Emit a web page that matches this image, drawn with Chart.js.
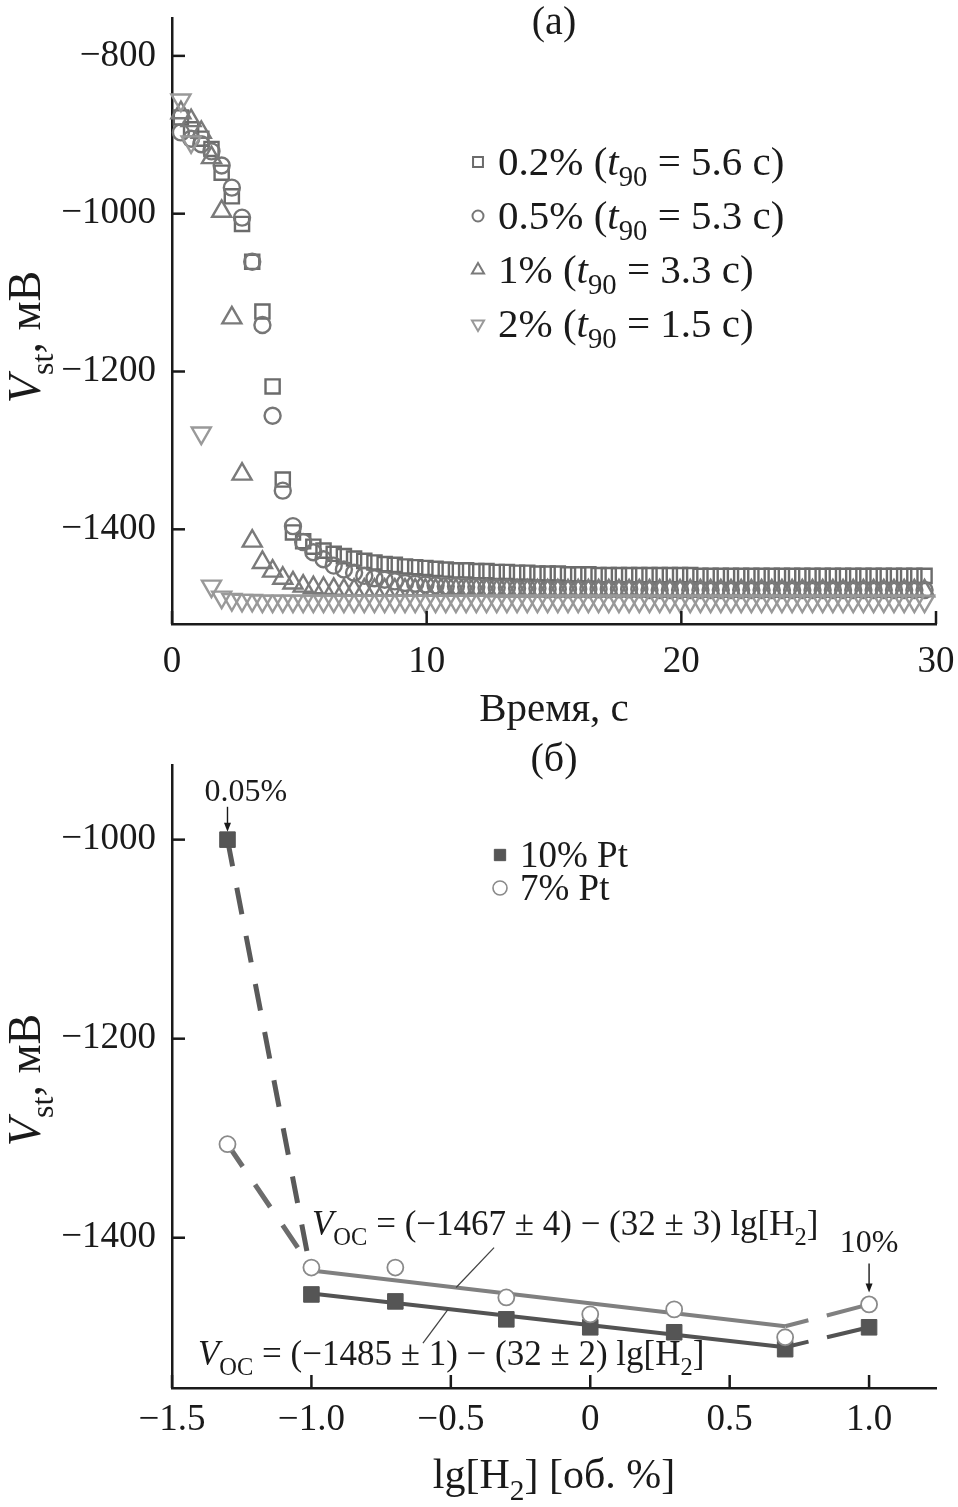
<!DOCTYPE html>
<html>
<head>
<meta charset="utf-8">
<script src="https://cdn.jsdelivr.net/npm/chart.js@4.4.1/dist/chart.umd.min.js"></script>
<style>
html,body{margin:0;padding:0;background:#fff;}
#wrap{position:relative;width:958px;height:1507px;overflow:hidden;}
#c1{position:absolute;left:0;top:0;}
#c2{position:absolute;left:0;top:740px;}
</style>
</head>
<body>
<div id="wrap">
<canvas id="c1" width="958" height="740"></canvas>
<canvas id="c2" width="958" height="767"></canvas>
</div>
<script>
// ================= DATA =================
// (a) transient response, time in s, potential in mV
const times = [
  0.35,0.75,1.15,1.55,1.95,2.35,2.75,3.15,3.55,3.95,
  4.35,4.75,5.15,5.55,5.95,6.35,6.75,7.15,7.55,7.95,
  8.35,8.75,9.15,9.55,9.95,10.35,10.75,11.15,11.55,11.95,
  12.35,12.75,13.15,13.55,13.95,14.35,14.75,15.15,15.55,15.95,
  16.35,16.75,17.15,17.55,17.95,18.35,18.75,19.15,19.55,19.95,
  20.35,20.75,21.15,21.55,21.95,22.35,22.75,23.15,23.55,23.95,
  24.35,24.75,25.15,25.55,25.95,26.35,26.75,27.15,27.55,27.95,
  28.35,28.75,29.15,29.55
];
const v02 = [
  -878,-893,-905,-918,-948,-978,-1013,-1061,-1124,-1219,
  -1337,-1404,-1415,-1422,-1427,-1431,-1434,-1437,-1440,-1442,
  -1444,-1445,-1447,-1448,-1449,-1450,-1451,-1452,-1452,-1453,
  -1453,-1454,-1454,-1455,-1455,-1456,-1456,-1456,-1457,-1457,
  -1457,-1458,-1458,-1458,-1458,-1458,-1458,-1458,-1458,-1458,
  -1458,-1459,-1459,-1459,-1459,-1459,-1459,-1459,-1459,-1459,
  -1459,-1459,-1459,-1459,-1459,-1459,-1459,-1459,-1459,-1459,
  -1459,-1459,-1459,-1459
];
const v05 = [
  -897,-905,-912,-921,-939,-967,-1005,-1061,-1141,-1256,
  -1351,-1396,-1416,-1429,-1438,-1446,-1451,-1455,-1459,-1462,
  -1464,-1466,-1468,-1469,-1470,-1471,-1472,-1472,-1473,-1473,
  -1474,-1474,-1474,-1475,-1475,-1475,-1476,-1476,-1476,-1476,
  -1476,-1476,-1476,-1476,-1476,-1476,-1477,-1477,-1477,-1477,
  -1477,-1477,-1477,-1477,-1477,-1477,-1477,-1477,-1477,-1477,
  -1477,-1477,-1477,-1477,-1477,-1477,-1477,-1477,-1477,-1477,
  -1477,-1477,-1477,-1477
];
const v1 = [
  -872,-882,-897,-929,-997,-1132,-1330,-1415,-1442,-1453,
  -1462,-1468,-1472,-1474,-1475,-1476,-1477,-1477,-1477,-1477,
  -1477,-1477,-1477,-1477,-1477,-1477,-1477,-1477,-1477,-1477,
  -1477,-1478,-1478,-1478,-1478,-1478,-1478,-1478,-1478,-1478,
  -1478,-1478,-1478,-1478,-1478,-1478,-1478,-1478,-1478,-1478,
  -1478,-1478,-1478,-1478,-1478,-1478,-1478,-1478,-1478,-1478,
  -1478,-1478,-1478,-1478,-1478,-1478,-1478,-1478,-1478,-1478,
  -1478,-1478,-1478,-1478
];
const v2 = [
  -856,-909,-1278,-1472,-1486,-1489,-1490,-1490,-1491,-1491,
  -1491,-1491,-1491,-1491,-1491,-1491,-1491,-1491,-1491,-1491,
  -1491,-1491,-1491,-1491,-1491,-1491,-1491,-1491,-1491,-1491,
  -1491,-1491,-1491,-1491,-1491,-1491,-1491,-1491,-1491,-1491,
  -1491,-1491,-1491,-1491,-1491,-1491,-1491,-1491,-1491,-1491,
  -1491,-1491,-1491,-1491,-1491,-1491,-1491,-1491,-1491,-1491,
  -1491,-1491,-1491,-1491,-1491,-1491,-1491,-1491,-1491,-1491,
  -1491,-1491,-1491,-1491
];
const concLabels = ['0.2%', '0.5%', '1%', '2%'];
const t90Labels = ['5.6', '5.3', '3.3', '1.5'];
const topXTicks = [0, 10, 20, 30];
const topYTicks = [-800, -1000, -1200, -1400];

// (б) steady-state potential vs lg[H2]
const lgH2 = [-1.301, -1.0, -0.699, -0.301, 0, 0.301, 0.699, 1.0];
const pt10 = [-1000, -1457, -1464, -1482, -1490, -1495, -1512, -1490];
const pt7  = [-1306, -1430, -1430, -1460, -1477, -1472, -1500, -1467];
const fitX   = [-1.0, 0.699];
const fit7   = [-1433, -1489];
const fit10  = [-1456, -1510];
const dashLeftX  = [-1.301, -1.0];
const dashLeft10 = [-1000, -1437];
const dashLeft7  = [-1306, -1430];
const dashRightX  = [0.699, 1.0];
const dashRight7  = [-1489, -1467];
const dashRight10 = [-1510, -1490];
const botXTicks = [-1.5, -1.0, -0.5, 0, 0.5, 1.0];
const botXLabels = ['\u22121.5', '\u22121.0', '\u22120.5', '0', '0.5', '1.0'];
const botYTicks = [-1000, -1200, -1400];
const botLegend = ['10% Pt', '7% Pt'];

// ================= HELPERS =================
const SERIF = '"Liberation Serif", "Times New Roman", serif';
const INK = '#1a1a1a';
Chart.defaults.font.family = SERIF;
Chart.defaults.color = INK;

function fmtNum(v) { return v < 0 ? '\u2212' + Math.abs(v) : String(v); }
function segFont(s, size) {
  const sz = s.sub ? size * 0.7 : size;
  return (s.it ? 'italic ' : '') + sz.toFixed(1) + 'px ' + SERIF;
}
function richWidth(ctx, segs, size) {
  let w = 0;
  segs.forEach(s => { ctx.font = segFont(s, size); w += ctx.measureText(s.t).width; });
  return w;
}
function drawRich(ctx, segs, x, y, size, align) {
  const w = richWidth(ctx, segs, size);
  let cx = align === 'center' ? x - w / 2 : (align === 'right' ? x - w : x);
  ctx.textAlign = 'left';
  ctx.textBaseline = 'alphabetic';
  segs.forEach(s => {
    ctx.font = segFont(s, size);
    ctx.fillText(s.t, cx, y + (s.sub ? size * 0.28 : 0));
    cx += ctx.measureText(s.t).width;
  });
}
function arrowDown(ctx, x, y1, y2) {
  ctx.beginPath(); ctx.moveTo(x, y1); ctx.lineTo(x, y2 - 7); ctx.stroke();
  ctx.beginPath(); ctx.moveTo(x, y2); ctx.lineTo(x - 3.5, y2 - 9); ctx.lineTo(x + 3.5, y2 - 9); ctx.closePath(); ctx.fill();
}

const inwardTicks = {
  id: 'inwardTicks',
  afterDraw(chart) {
    const { ctx, chartArea: ca, scales: { x, y } } = chart;
    ctx.save();
    ctx.strokeStyle = INK; ctx.lineWidth = 2.5;
    x.ticks.forEach(t => {
      const px = x.getPixelForValue(t.value);
      ctx.beginPath(); ctx.moveTo(px, ca.bottom); ctx.lineTo(px, ca.bottom - 13); ctx.stroke();
    });
    y.ticks.forEach(t => {
      const py = y.getPixelForValue(t.value);
      ctx.beginPath(); ctx.moveTo(ca.left, py); ctx.lineTo(ca.left + 13, py); ctx.stroke();
    });
    ctx.restore();
  }
};

function axisCommon(extra) {
  return Object.assign({
    type: 'linear',
    grid: { display: true, drawOnChartArea: false, drawTicks: false },
    border: { display: true, color: INK, width: 2.5 },
  }, extra);
}

// ================= CHART (а) =================
const topStyles = [
  { pointStyle: 'rect', radius: 10, color: '#6b6b6b', rot: 0 },
  { pointStyle: 'circle', radius: 8, color: '#767676', rot: 0 },
  { pointStyle: 'triangle', radius: 11, color: '#7a7a7a', rot: 0 },
  { pointStyle: 'triangle', radius: 11, color: '#999999', rot: 180 },
];
const topSeries = [v02, v05, v1, v2];

const topDeco = {
  id: 'topDeco',
  afterDraw(chart) {
    const { ctx, chartArea: ca } = chart;
    const cx = (ca.left + ca.right) / 2;
    ctx.save();
    ctx.fillStyle = INK;
    drawRich(ctx, [{ t: '(а)' }], cx, 34, 40, 'center');
    drawRich(ctx, [{ t: 'Время, с' }], cx, 721, 41, 'center');
    ctx.save();
    ctx.translate(40, 337); ctx.rotate(-Math.PI / 2);
    drawRich(ctx, [{ t: 'V', it: true }, { t: 'st', sub: true }, { t: ', мВ' }], 0, 0, 46, 'center');
    ctx.restore();
    // legend
    chart.data.datasets.forEach((ds, i) => {
      const ly = 162 + i * 54;
      const st = topStyles[i];
      ctx.strokeStyle = st.color; ctx.fillStyle = 'rgba(0,0,0,0)'; ctx.lineWidth = 2;
      Chart.helpers.drawPoint(ctx, { pointStyle: st.pointStyle, rotation: st.rot, radius: st.pointStyle === 'circle' ? 5.5 : 7, borderWidth: 2 }, 478, ly);
      ctx.fillStyle = INK;
      drawRich(ctx, [{ t: concLabels[i] + ' (' }, { t: 't', it: true }, { t: '90', sub: true }, { t: ' = ' + t90Labels[i] + ' с)' }], 498, ly + 13, 41, 'left');
    });
    ctx.restore();
  }
};

new Chart(document.getElementById('c1'), {
  type: 'scatter',
  data: {
    datasets: topSeries.map((vals, i) => ({
      label: concLabels[i],
      data: times.map((t, k) => ({ x: t, y: vals[k] })),
      pointStyle: topStyles[i].pointStyle,
      pointRotation: topStyles[i].rot,
      pointRadius: topStyles[i].radius,
      borderColor: topStyles[i].color,
      backgroundColor: 'rgba(255,255,255,0)',
      pointBorderWidth: 2.4,
      clip: false,
      order: 4 - i
    }))
  },
  options: {
    responsive: false, animation: false, devicePixelRatio: 1,
    layout: { padding: { top: 18, right: 22, bottom: 0, left: 0 } },
    plugins: { legend: { display: false }, tooltip: { enabled: false } },
    scales: {
      x: axisCommon({
        min: 0, max: 30,
        afterBuildTicks: s => { s.ticks = topXTicks.map(v => ({ value: v })); },
        afterFit: s => { s.height = 116; s.paddingLeft = 0; s.paddingRight = 0; },
        ticks: { font: { size: 37 }, color: INK, padding: 16, maxRotation: 0, autoSkip: false, callback: v => fmtNum(v) }
      }),
      y: axisCommon({
        min: -1520, max: -752,
        afterBuildTicks: s => { s.ticks = topYTicks.map(v => ({ value: v })); },
        afterFit: s => { s.width = 172; s.paddingTop = 0; s.paddingBottom = 0; },
        ticks: { font: { size: 37 }, color: INK, padding: 16, autoSkip: false, callback: v => fmtNum(v) }
      })
    }
  },
  plugins: [inwardTicks, topDeco]
});

// ================= CHART (б) =================
const botDeco = {
  id: 'botDeco',
  afterDraw(chart) {
    const { ctx, chartArea: ca, scales: { x, y } } = chart;
    const cx = (ca.left + ca.right) / 2;
    ctx.save();
    ctx.fillStyle = INK;
    drawRich(ctx, [{ t: '(б)' }], cx, 31, 40, 'center');
    drawRich(ctx, [{ t: 'lg[H' }, { t: '2', sub: true }, { t: '] [об. %]' }], cx, 748, 42, 'center');
    ctx.save();
    ctx.translate(40, 340); ctx.rotate(-Math.PI / 2);
    drawRich(ctx, [{ t: 'V', it: true }, { t: 'st', sub: true }, { t: ', мВ' }], 0, 0, 46, 'center');
    ctx.restore();

    // legend
    const lx = 500;
    ctx.fillStyle = '#555555'; ctx.strokeStyle = '#555555'; ctx.lineWidth = 1;
    Chart.helpers.drawPoint(ctx, { pointStyle: 'rect', radius: 8, borderWidth: 1 }, lx, 115);
    ctx.fillStyle = '#ffffff'; ctx.strokeStyle = '#8a8a8a'; ctx.lineWidth = 1.6;
    Chart.helpers.drawPoint(ctx, { pointStyle: 'circle', radius: 7, borderWidth: 1.6 }, lx, 148);
    ctx.fillStyle = INK;
    drawRich(ctx, [{ t: botLegend[0] }], 520, 127, 37, 'left');
    drawRich(ctx, [{ t: botLegend[1] }], 520, 160, 37, 'left');

    // annotations
    drawRich(ctx, [{ t: '0.05%' }], x.getPixelForValue(-1.235), y.getPixelForValue(-961), 32, 'center');
    drawRich(ctx, [{ t: '10%' }], x.getPixelForValue(1.0), y.getPixelForValue(-1414), 32, 'center');
    ctx.strokeStyle = INK; ctx.lineWidth = 1.4;
    arrowDown(ctx, x.getPixelForValue(lgH2[0]), y.getPixelForValue(-967), y.getPixelForValue(-992));
    arrowDown(ctx, x.getPixelForValue(lgH2[7]), y.getPixelForValue(-1426), y.getPixelForValue(-1455));

    const eq = (a, b) => [{ t: 'V', it: true }, { t: 'OC', sub: true }, { t: ' = (\u2212' + a + ' \u00b1 ' + b[0] + ') \u2212 (32 \u00b1 ' + b[1] + ') lg[H' }, { t: '2', sub: true }, { t: ']' }];
    drawRich(ctx, eq('1467', ['4', '3']), x.getPixelForValue(-0.998), y.getPixelForValue(-1397), 35, 'left');
    drawRich(ctx, eq('1485', ['1', '2']), x.getPixelForValue(-1.407), y.getPixelForValue(-1528), 35, 'left');

    // leader lines
    ctx.strokeStyle = '#444'; ctx.lineWidth = 1.3;
    [[[-0.345, -1410], [-0.481, -1450]], [[-0.510, -1472], [-0.600, -1506]]].forEach(seg => {
      ctx.beginPath();
      ctx.moveTo(x.getPixelForValue(seg[0][0]), y.getPixelForValue(seg[0][1]));
      ctx.lineTo(x.getPixelForValue(seg[1][0]), y.getPixelForValue(seg[1][1]));
      ctx.stroke();
    });
    ctx.restore();
  }
};

function lineDs(xs, ys, color, width, dash) {
  return {
    type: 'line', data: xs.map((v, i) => ({ x: v, y: ys[i] })),
    borderColor: color, borderWidth: width, borderDash: dash || [],
    pointRadius: 0, showLine: true, fill: false, tension: 0, clip: false, order: 5
  };
}

new Chart(document.getElementById('c2'), {
  type: 'scatter',
  data: {
    datasets: [
      lineDs(fitX, fit7, '#808080', 4),
      lineDs(fitX, fit10, '#535353', 4),
      lineDs(dashLeftX, dashLeft10, '#5a5a5a', 5, [27, 22]),
      lineDs(dashLeftX, dashLeft7, '#6c6c6c', 5, [27, 22]),
      lineDs(dashRightX, dashRight7, '#808080', 4, [24, 19, 200]),
      lineDs(dashRightX, dashRight10, '#535353', 4, [24, 19, 200]),
      {
        label: botLegend[0], data: lgH2.map((v, i) => ({ x: v, y: pt10[i] })),
        pointStyle: 'rect', pointRadius: 11, backgroundColor: '#555555', borderColor: '#555555',
        pointBorderWidth: 1, clip: false, order: 1
      },
      {
        label: botLegend[1], data: lgH2.map((v, i) => ({ x: v, y: pt7[i] })),
        pointStyle: 'circle', pointRadius: 8, backgroundColor: '#ffffff', borderColor: '#8a8a8a',
        pointBorderWidth: 1.8, clip: false, order: 0
      }
    ]
  },
  options: {
    responsive: false, animation: false, devicePixelRatio: 1,
    layout: { padding: { top: 25, right: 22, bottom: 0, left: 0 } },
    plugins: { legend: { display: false }, tooltip: { enabled: false } },
    scales: {
      x: axisCommon({
        min: -1.5, max: 1.24,
        afterBuildTicks: s => { s.ticks = botXTicks.map(v => ({ value: v })); },
        afterFit: s => { s.height = 119; s.paddingLeft = 0; s.paddingRight = 0; },
        ticks: { font: { size: 37 }, color: INK, padding: 10, maxRotation: 0, autoSkip: false,
                 callback: (v, i) => botXLabels[i] }
      }),
      y: axisCommon({
        min: -1551, max: -925,
        afterBuildTicks: s => { s.ticks = botYTicks.map(v => ({ value: v })); },
        afterFit: s => { s.width = 172; s.paddingTop = 0; s.paddingBottom = 0; },
        ticks: { font: { size: 37 }, color: INK, padding: 16, autoSkip: false, callback: v => fmtNum(v) }
      })
    }
  },
  plugins: [inwardTicks, botDeco]
});
</script>
</body>
</html>
